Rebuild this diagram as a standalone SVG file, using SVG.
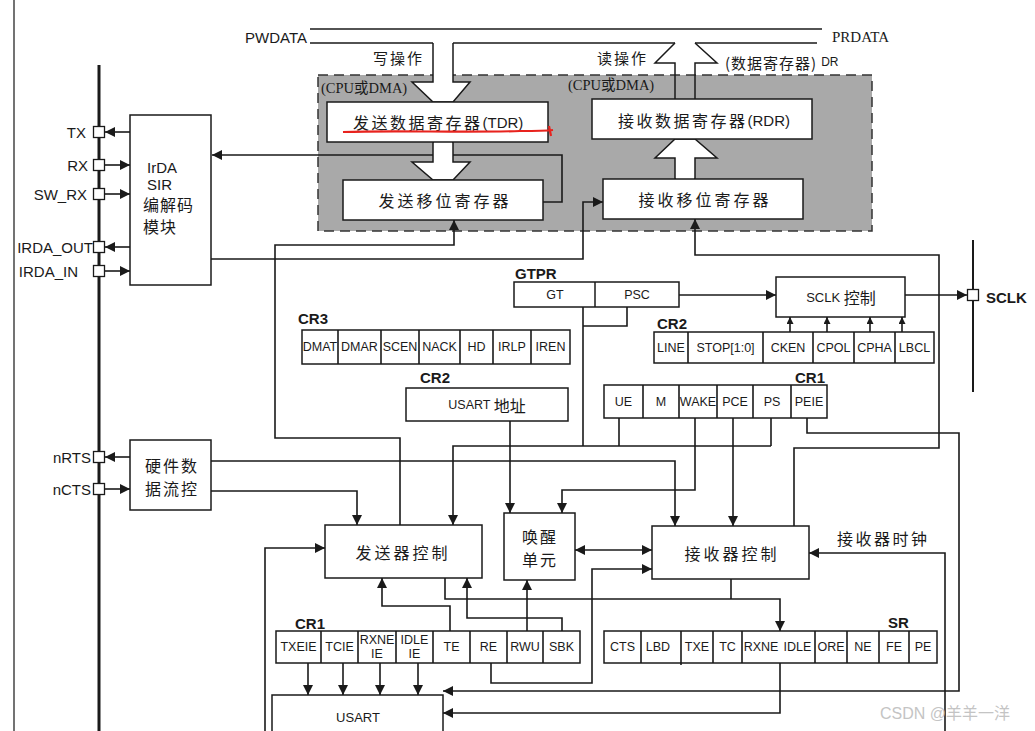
<svg xmlns="http://www.w3.org/2000/svg" width="1035" height="731" viewBox="0 0 1035 731">
<defs>
<style>
.ln{fill:none;stroke:#1a1a1a;stroke-width:1.6}
.bx{fill:#fff;stroke:#1a1a1a;stroke-width:1.5}
.pin{fill:#fff;stroke:#1a1a1a;stroke-width:1.3}
.t{font-family:"Liberation Sans",Arial,sans-serif;fill:#1a1a1a}
.s{font-family:"Liberation Serif","Noto Sans CJK SC",serif;fill:#1a1a1a}
.cn{font-family:"Noto Sans CJK SC",sans-serif;fill:#1a1a1a}
.reg{font-size:12.5px;text-anchor:middle;dominant-baseline:central}
.lbl{font-weight:bold;font-size:15px;dominant-baseline:central}
.pl{font-size:15px;text-anchor:end;dominant-baseline:central}
.mid{text-anchor:middle;dominant-baseline:central}
</style>
<marker id="a" viewBox="0 0 10 10" refX="10" refY="5" markerWidth="11" markerHeight="10" markerUnits="userSpaceOnUse" orient="auto-start-reverse"><path d="M0,0 L10,5 L0,10 z" fill="#1a1a1a"/></marker>
<marker id="as" viewBox="0 0 10 10" refX="10" refY="5" markerWidth="8" markerHeight="7" markerUnits="userSpaceOnUse" orient="auto"><path d="M0,0 L10,5 L0,10 z" fill="#1a1a1a"/></marker>
</defs>
<rect width="1035" height="731" fill="#fff"/>

<!-- frame lines -->
<line x1="14" y1="0" x2="14" y2="731" stroke="#444" stroke-width="1.5"/>
<line x1="99" y1="65" x2="99" y2="731" stroke="#1a1a1a" stroke-width="3"/>
<line x1="973" y1="240" x2="973" y2="392" stroke="#1a1a1a" stroke-width="2"/>

<!-- buses -->
<g id="bus">
<path class="ln" d="M310,29 H822"/>
<path class="ln" d="M310,43 H433 M453,43 H675 M695,43 H817"/>
<text class="t" x="245" y="37" font-size="15" dominant-baseline="central">PWDATA</text>
<text class="s" x="832" y="37" font-size="15" dominant-baseline="central">PRDATA</text>
<text class="cn" x="373" y="57" font-size="15" letter-spacing="2" dominant-baseline="central">写操作</text>
<text class="cn" x="597" y="57" font-size="15" letter-spacing="2" dominant-baseline="central">读操作</text>
<text x="725" y="62" dominant-baseline="central"><tspan class="cn" font-size="15" letter-spacing="1">(数据寄存器)</tspan><tspan class="t" font-size="12" dx="4">DR</tspan></text>
</g>

<!-- data register region -->
<g id="dr-region">
<rect x="318" y="75" width="554" height="156" fill="#a9a9a9" stroke="#333" stroke-width="1.5" stroke-dasharray="10,6"/>
<text class="s" x="321" y="88" font-size="14.5" dominant-baseline="central">(CPU或DMA)</text>
<text class="s" x="568" y="85" font-size="14.5" dominant-baseline="central">(CPU或DMA)</text>
</g>

<!-- connectors -->
<g id="connectors">
<path class="ln" d="M543,202 H562 V155 H212" marker-end="url(#a)"/>
<path class="ln" d="M211,259 H583 V202 H603" marker-end="url(#a)"/>
<path class="ln" d="M400,525 V438 H275 V245 H454 V220" marker-end="url(#a)"/>
<path class="ln" d="M794,526 V448 H939 V255 H695 V219" marker-end="url(#a)"/>
<path class="ln" d="M583,307 V446 M627,307 V326 H583 M619,418 V446 M771,418 V446"/>
<path class="ln" d="M771,446 H453 V525" marker-end="url(#a)"/>
<path class="ln" d="M679,295 H776" marker-end="url(#a)"/>
<path class="ln" d="M905,295 H967" marker-end="url(#a)"/>
<path class="ln" d="M790,332 V317" marker-end="url(#as)"/>
<path class="ln" d="M827,332 V317" marker-end="url(#as)"/>
<path class="ln" d="M870,332 V317" marker-end="url(#as)"/>
<path class="ln" d="M902,332 V317" marker-end="url(#as)"/>
<path class="ln" d="M510,421 V513" marker-end="url(#a)"/>
<path class="ln" d="M695,418 V490 H562 V513" marker-end="url(#a)"/>
<path class="ln" d="M733,418 V526" marker-end="url(#a)"/>
<path class="ln" d="M807,418 V433 H959 V691 H443" marker-end="url(#a)"/>
<path class="ln" d="M211,461 H675 V526" marker-end="url(#a)"/>
<path class="ln" d="M211,491 H357 V525" marker-end="url(#a)"/>
<path class="ln" d="M265,731 V548 H325" marker-end="url(#a)"/>
<path class="ln" d="M575,550 H652" marker-start="url(#a)" marker-end="url(#a)"/>
<path class="ln" d="M945,731 V553 H809" marker-end="url(#a)"/>
<path class="ln" d="M445,578 V599 H780 V631" marker-end="url(#a)"/>
<path class="ln" d="M731,579 V599"/>
<path class="ln" d="M780,631 V713 H443" marker-end="url(#a)"/>
<path class="ln" d="M450,631 V606 H382 V578" marker-end="url(#a)"/>
<path class="ln" d="M562,631 V618 H467 V578" marker-end="url(#a)"/>
<path class="ln" d="M527,631 V580" marker-end="url(#a)"/>
<path class="ln" d="M491,663 V683 H592 V569 H652" marker-end="url(#a)"/>
<path class="ln" d="M308,663 V695" marker-end="url(#a)"/>
<path class="ln" d="M343,663 V695" marker-end="url(#a)"/>
<path class="ln" d="M380,663 V695" marker-end="url(#a)"/>
<path class="ln" d="M418,663 V695" marker-end="url(#a)"/>
<path class="ln" d="M130,132 H105" marker-end="url(#a)"/>
<path class="ln" d="M105,165 H130" marker-end="url(#a)"/>
<path class="ln" d="M105,194 H130" marker-end="url(#a)"/>
<path class="ln" d="M130,247 H105" marker-end="url(#a)"/>
<path class="ln" d="M105,271 H130" marker-end="url(#a)"/>
<path class="ln" d="M130,457 H105" marker-end="url(#a)"/>
<path class="ln" d="M105,489 H130" marker-end="url(#a)"/>
</g>

<!-- wide transfer arrows -->
<g id="transfer-arrows">
<path d="M433,43 V82 H412 L433,102 H453 L470,82 H453 V43" fill="#fff" stroke="#1a1a1a" stroke-width="1.5"/>
<path d="M675,99 V63 H655 L675,43 M695,43 L717,63 H695 V99" fill="#fff" stroke="#1a1a1a" stroke-width="1.5"/>
<path d="M433,142 V162 H412 L433,180 H453 L470,162 H453 V142 Z" fill="#fff" stroke="#1a1a1a" stroke-width="1.5"/>
<path d="M675,179 V158 H655 L675,139 H695 L717,158 H695 V179 Z" fill="#fff" stroke="#1a1a1a" stroke-width="1.5"/>
<rect x="434" y="135" width="18" height="10" fill="#fff"/>
<rect x="676" y="173" width="18" height="10" fill="#fff"/>
</g>

<!-- data registers -->
<g id="tdr"><rect class="bx" x="327" y="102" width="221" height="40"/>
<text x="353" y="122" dominant-baseline="central"><tspan class="cn" font-size="16" letter-spacing="2.5">发送数据寄存器</tspan><tspan class="t" font-size="15">(TDR)</tspan></text>
<path d="M343,132 C400,130 460,133 520,131 C535,131 545,131 553,130 M549,126 L551,136" fill="none" stroke="#e8231e" stroke-width="2.2"/>
</g>
<g id="rdr"><rect class="bx" x="592" y="99" width="220" height="40"/>
<text x="618" y="120" dominant-baseline="central"><tspan class="cn" font-size="16" letter-spacing="2.5">接收数据寄存器</tspan><tspan class="t" font-size="15">(RDR)</tspan></text></g>
<g id="tx-shift"><rect class="bx" x="343" y="180" width="200" height="40"/>
<text class="cn mid" x="445" y="200" font-size="16" letter-spacing="3">发送移位寄存器</text></g>
<g id="rx-shift"><rect class="bx" x="603" y="179" width="200" height="40"/>
<text class="cn mid" x="705" y="199" font-size="16" letter-spacing="3">接收移位寄存器</text></g>

<!-- pins -->
<g id="pins">
<rect class="pin" x="93.5" y="126.5" width="11" height="11"/>
<rect class="pin" x="93.5" y="159.5" width="11" height="11"/>
<rect class="pin" x="93.5" y="188.5" width="11" height="11"/>
<rect class="pin" x="93.5" y="241.5" width="11" height="11"/>
<rect class="pin" x="93.5" y="265.5" width="11" height="11"/>
<rect class="pin" x="93.5" y="451.5" width="11" height="11"/>
<rect class="pin" x="93.5" y="483.5" width="11" height="11"/>
<rect class="pin" x="967.5" y="289.5" width="11" height="11"/>
<text class="t pl" x="86" y="132">TX</text>
<text class="t pl" x="88" y="165">RX</text>
<text class="t pl" x="87" y="194">SW_RX</text>
<text class="t pl" x="93" y="247">IRDA_OUT</text>
<text class="t pl" x="78" y="271">IRDA_IN</text>
<text class="t pl" x="91" y="457">nRTS</text>
<text class="t pl" x="91" y="489">nCTS</text>
<text class="t lbl" x="986" y="297">SCLK</text>
</g>

<g id="irda"><rect class="bx" x="130" y="115" width="81" height="170"/>
<text class="t" x="147" y="167" font-size="15" dominant-baseline="central">IrDA</text>
<text class="t" x="147" y="184" font-size="15" dominant-baseline="central">SIR</text>
<text class="cn" x="143" y="204" font-size="16" letter-spacing="1" dominant-baseline="central">编解码</text>
<text class="cn" x="143" y="226" font-size="16" letter-spacing="1" dominant-baseline="central">模块</text></g>

<g id="hwflow"><rect class="bx" x="130" y="440" width="81" height="70"/>
<text class="cn mid" x="172" y="465" font-size="16" letter-spacing="2">硬件数</text>
<text class="cn mid" x="172" y="488" font-size="16" letter-spacing="2">据流控</text></g>

<g id="gtpr"><rect class="bx" x="514" y="282" width="165" height="25"/>
<line x1="595" y1="282" x2="595" y2="307" stroke="#1a1a1a" stroke-width="1.5"/>
<text class="t reg" x="555" y="295">GT</text><text class="t reg" x="637" y="295">PSC</text>
<text class="t lbl" x="515" y="273">GTPR</text></g>

<g id="sclk-ctrl"><rect class="bx" x="776" y="277" width="129" height="40"/>
<text x="841" y="297" class="mid"><tspan class="t" font-size="13">SCLK </tspan><tspan class="cn" font-size="16">控制</tspan></text></g>

<g id="cr3"><rect class="bx" x="302" y="330" width="268" height="34"/>
<path class="ln" d="M338,330 V364 M381,330 V364 M419,330 V364 M460,330 V364 M493,330 V364 M531,330 V364"/>
<text class="t reg" x="320" y="347">DMAT</text><text class="t reg" x="359.5" y="347">DMAR</text><text class="t reg" x="400" y="347">SCEN</text><text class="t reg" x="439.5" y="347">NACK</text><text class="t reg" x="476.5" y="347">HD</text><text class="t reg" x="512" y="347">IRLP</text><text class="t reg" x="550.5" y="347">IREN</text>
<text class="t lbl" x="298" y="318">CR3</text></g>

<g id="cr2-clk"><rect class="bx" x="654" y="332" width="280" height="31"/>
<path class="ln" d="M688,332 V363 M763,332 V363 M813,332 V363 M854,332 V363 M895,332 V363"/>
<text class="t reg" x="671" y="347.5">LINE</text><text class="t reg" x="725.5" y="347.5">STOP[1:0]</text><text class="t reg" x="788" y="347.5">CKEN</text><text class="t reg" x="833.5" y="347.5">CPOL</text><text class="t reg" x="874.5" y="347.5">CPHA</text><text class="t reg" x="914.5" y="347.5">LBCL</text>
<text class="t lbl" x="657" y="323">CR2</text></g>

<g id="cr2-addr"><rect class="bx" x="406" y="388" width="162" height="33"/>
<text x="487" y="405" class="mid"><tspan class="t" font-size="12.5">USART </tspan><tspan class="cn" font-size="16">地址</tspan></text>
<text class="t lbl" x="420" y="377">CR2</text></g>

<g id="cr1-top"><rect class="bx" x="604" y="385" width="223" height="33"/>
<path class="ln" d="M643,385 V418 M679,385 V418 M717,385 V418 M753,385 V418 M791,385 V418"/>
<text class="t reg" x="623.5" y="401.5">UE</text><text class="t reg" x="661" y="401.5">M</text><text class="t reg" x="698" y="401.5" font-size="12">WAKE</text><text class="t reg" x="735" y="401.5">PCE</text><text class="t reg" x="772" y="401.5">PS</text><text class="t reg" x="809" y="401.5">PEIE</text>
<text class="t lbl" x="795" y="377">CR1</text></g>

<g id="tx-ctrl"><rect class="bx" x="325" y="525" width="157" height="53"/>
<text class="cn mid" x="403" y="552" font-size="16" letter-spacing="3">发送器控制</text></g>

<g id="wake"><rect class="bx" x="504" y="513" width="71" height="67"/>
<text class="cn mid" x="540" y="536" font-size="16" letter-spacing="2">唤醒</text>
<text class="cn mid" x="540" y="559" font-size="16" letter-spacing="2">单元</text></g>

<g id="rx-ctrl"><rect class="bx" x="652" y="526" width="157" height="53"/>
<text class="cn mid" x="732" y="553" font-size="16" letter-spacing="3">接收器控制</text></g>
<text class="cn" x="837" y="538" font-size="16" letter-spacing="2.5" dominant-baseline="central">接收器时钟</text>

<g id="cr1-bot"><rect class="bx" x="276" y="631" width="304" height="32"/>
<path class="ln" d="M321,631 V663 M358,631 V663 M396,631 V663 M433,631 V663 M470,631 V663 M507,631 V663 M543,631 V663"/>
<text class="t reg" x="298.5" y="647" font-size="13">TXEIE</text><text class="t reg" x="339.5" y="647" font-size="13">TCIE</text>
<text class="t reg" x="377" y="640" font-size="13">RXNE</text><text class="t reg" x="377" y="654" font-size="13">IE</text>
<text class="t reg" x="414.5" y="640" font-size="13">IDLE</text><text class="t reg" x="414.5" y="654" font-size="13">IE</text>
<text class="t reg" x="451.5" y="647" font-size="13">TE</text><text class="t reg" x="488.5" y="647" font-size="13">RE</text><text class="t reg" x="525" y="647" font-size="13">RWU</text><text class="t reg" x="561.5" y="647" font-size="13">SBK</text>
<text class="t lbl" x="295" y="623">CR1</text></g>

<g id="sr"><rect class="bx" x="604" y="631" width="333" height="32"/>
<path class="ln" d="M641,631 V663 M681,631 V665 M713,631 V663 M742,631 V663 M815,631 V663 M847,631 V663 M879,631 V663 M909,631 V663"/>
<text class="t reg" x="622.5" y="647" font-size="13">CTS</text><text class="t reg" x="658" y="647" font-size="13">LBD</text><text class="t reg" x="697" y="647" font-size="13">TXE</text><text class="t reg" x="727.5" y="647" font-size="13">TC</text><text class="t reg" x="761" y="647" font-size="13">RXNE</text><text class="t reg" x="797.5" y="647" font-size="13">IDLE</text><text class="t reg" x="831" y="647" font-size="13">ORE</text><text class="t reg" x="863" y="647" font-size="13">NE</text><text class="t reg" x="894" y="647" font-size="13">FE</text><text class="t reg" x="923" y="647" font-size="13">PE</text>
<text class="t lbl" x="888" y="622">SR</text></g>

<g id="usart"><rect class="bx" x="272" y="695" width="171" height="45"/>
<text class="t mid" x="358" y="717" font-size="13">USART</text></g>

<text x="880" y="713" font-size="16" fill="#c4c4c4" font-family="Liberation Sans,Noto Sans CJK SC,sans-serif" dominant-baseline="central">CSDN @羊羊一洋</text>
</svg>
